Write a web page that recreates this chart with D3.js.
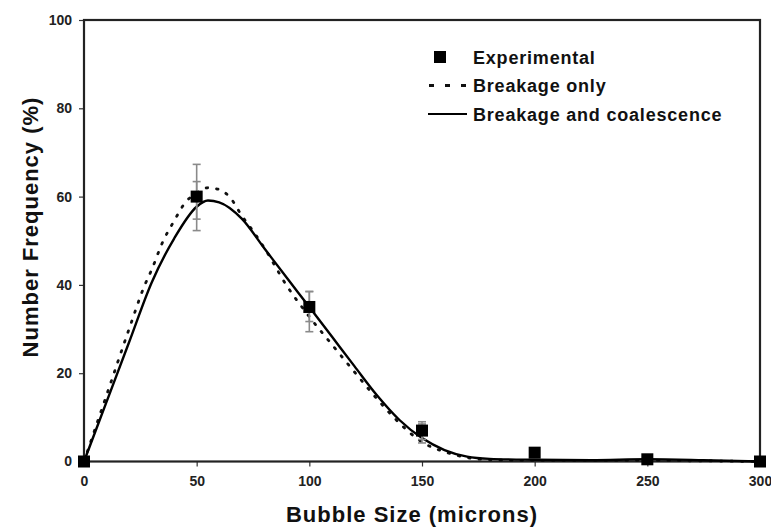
<!DOCTYPE html>
<html><head><meta charset="utf-8">
<script src="https://cdn.jsdelivr.net/npm/d3@7"></script>
<style>body{margin:0;background:#fff}svg{display:block}text{font-family:"Liberation Sans",Arial,sans-serif;font-weight:bold}</style>
</head><body>
<svg id="c" width="771" height="527"></svg>
<script>
// Data
const xTicks = [0, 50, 100, 150, 200, 250, 300];
const yTicks = [0, 20, 40, 60, 80, 100];
const expX = [0, 50, 100, 150, 200, 250, 300];
const expY = [0, 60, 35, 7, 2, 0.5, 0];
const errX = [50, 100, 150];
const errOuterLow = [52.3, 29.4, 4.2];
const errOuterHigh = [67.3, 38.5, 9];
const errInnerLow = [54.9, 31.7, 5];
const errInnerHigh = [63.4, 38.5, 8.5];
const brkX = [0, 10, 20, 27, 30, 35, 40, 45, 50, 55, 60, 65, 70, 75, 80, 90, 100, 110, 120, 130, 140, 150, 160, 170, 180, 200, 250, 300];
const brkY = [0, 15, 30, 40, 43.4, 49.8, 54.5, 58.7, 60.8, 62, 61.6, 59.7, 55.7, 52.2, 48.4, 39.8, 32.8, 26.5, 20.3, 14.2, 8.7, 4.4, 2.2, 0.9, 0.4, 0.2, 0.2, 0];
const bcX = [0, 10, 20, 30, 40, 50, 55, 60, 70, 80, 90, 100, 110, 120, 130, 140, 150, 160, 170, 180, 200, 225, 250, 275, 300];
const bcY = [0, 13.5, 27, 40.5, 50.5, 57.7, 59.1, 58.7, 55, 48.3, 41.6, 35, 28.3, 21.6, 15, 9.4, 5.3, 2.6, 1.1, 0.6, 0.4, 0.3, 0.5, 0.3, 0];
const legendLabels = ["Experimental", "Breakage only", "Breakage and coalescence"];

const svg = d3.select("#c");
const L = 84, R = 760, T = 20, B = 461.5;
const x = d3.scaleLinear().domain([0, 300]).range([L, R]);
const y = d3.scaleLinear().domain([0, 100]).range([B, T]);

// axes
const xa = svg.append("g").attr("transform", `translate(0,${B})`)
  .call(d3.axisBottom(x).tickValues(xTicks).tickSize(5).tickPadding(10));
const ya = svg.append("g").attr("transform", `translate(${L},0)`)
  .call(d3.axisLeft(y).tickValues(yTicks).tickSize(5).tickPadding(7));
[xa, ya].forEach(g => {
  g.select(".domain").remove();
  g.selectAll("line").attr("stroke", "#333").attr("stroke-width", 1.2);
  g.selectAll("text").attr("font-size", 14).attr("fill", "#222")
    .attr("font-family", "'Liberation Sans',Arial,sans-serif").attr("font-weight", "bold");
});
// frame
svg.append("rect").attr("x", L).attr("y", T).attr("width", R - L).attr("height", B - T)
  .attr("fill", "none").attr("stroke", "#222").attr("stroke-width", 2.2);

// curves
const line = d3.line().x(d => x(d[0])).y(d => y(d[1])).curve(d3.curveMonotoneX);
svg.append("path").datum(brkX.map((v, i) => [v, brkY[i]]))
  .attr("d", line).attr("fill", "none").attr("stroke", "#111")
  .attr("stroke-width", 2.8).attr("stroke-dasharray", "1.5,9").attr("stroke-linecap", "round");
svg.append("path").datum(bcX.map((v, i) => [v, bcY[i]]))
  .attr("d", line).attr("fill", "none").attr("stroke", "#000").attr("stroke-width", 2.4);

// error bars
function errBars(lo, hi) {
  const g = svg.append("g").attr("stroke", "#8a8a8a").attr("stroke-width", 1.6);
  errX.forEach((v, i) => {
    g.append("line").attr("x1", x(v)).attr("x2", x(v)).attr("y1", y(lo[i])).attr("y2", y(hi[i]));
    [lo[i], hi[i]].forEach(e => g.append("line").attr("x1", x(v) - 4).attr("x2", x(v) + 4)
      .attr("y1", y(e)).attr("y2", y(e)));
  });
}
errBars(errOuterLow, errOuterHigh);
errBars(errInnerLow, errInnerHigh);

// markers
svg.append("g").selectAll("rect").data(expX.map((v, i) => [v, expY[i]])).join("rect")
  .attr("x", d => x(d[0]) - 6).attr("y", d => y(d[1]) - 6).attr("width", 12).attr("height", 12)
  .attr("fill", "#000");

// legend
const lg = svg.append("g");
lg.append("rect").attr("x", 434).attr("y", 51).attr("width", 12).attr("height", 12).attr("fill", "#000");
lg.append("line").attr("x1", 429).attr("x2", 467).attr("y1", 85.5).attr("y2", 85.5)
  .attr("stroke", "#111").attr("stroke-width", 2.8).attr("stroke-dasharray", "5,11");
lg.append("line").attr("x1", 428).attr("x2", 467).attr("y1", 114).attr("y2", 114)
  .attr("stroke", "#000").attr("stroke-width", 2.2);
legendLabels.forEach((t, i) => lg.append("text").attr("x", 473).attr("y", 63.5 + i * 28.5)
  .attr("font-size", 18).attr("letter-spacing", 0.8).attr("fill", "#111").text(t));

// titles
svg.append("text").attr("x", 412).attr("y", 522).attr("text-anchor", "middle")
  .attr("font-size", 22).attr("letter-spacing", 1).attr("fill", "#111").text("Bubble Size (microns)");
svg.append("text").attr("transform", "translate(38,227) rotate(-90)").attr("text-anchor", "middle")
  .attr("font-size", 22).attr("letter-spacing", 1).attr("fill", "#111").text("Number Frequency (%)");
</script>
</body></html>
